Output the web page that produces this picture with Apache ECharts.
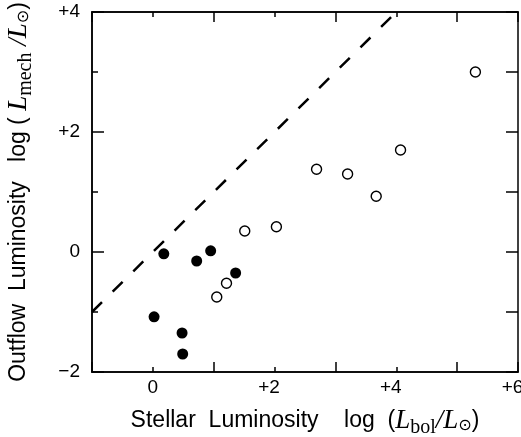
<!DOCTYPE html>
<html><head><meta charset="utf-8">
<script src="https://cdn.jsdelivr.net/npm/echarts@6/dist/echarts.min.js"></script>
<style>html,body{margin:0;padding:0;background:#fff}#c{width:521px;height:437px}</style>
</head><body><div id="c"></div>
<script>
// Data
const filledX = [0.18, 0.72, 0.95, 1.36, 0.02, 0.48, 0.49];
const filledY = [-0.03, -0.15, 0.02, -0.35, -1.08, -1.35, -1.70];
const openX = [1.05, 1.21, 1.51, 2.03, 2.69, 3.20, 3.67, 4.07, 5.30];
const openY = [-0.75, -0.52, 0.35, 0.42, 1.38, 1.30, 0.93, 1.70, 3.00];
const equalityX = [-1, 4];
const equalityY = [-1, 4];
const xTickLabels = {0: '0', 2: '+2', 4: '+4', 6: '+6'};
const yTickLabels = {'-2': '\u22122', 0: '0', 2: '+2', 4: '+4'};

const zip = (a, b) => a.map((v, i) => [v, b[i]]);
const sans = "'Liberation Sans', Arial, Helvetica, sans-serif";
const serif = "'Liberation Serif', 'Times New Roman', serif";
const ax = {color: '#000', width: 1.5};

const titleRich = {
  t: {fontFamily: sans, fontSize: 23, color: '#000'},
  L: {fontFamily: serif, fontStyle: 'italic', fontSize: 27, color: '#000'},
  sub: {fontFamily: serif, fontSize: 20, color: '#000', padding: [14, 0, 0, 0]},
  sun: {fontFamily: 'DejaVu Sans', fontSize: 16, color: '#000', padding: [10, 0, 0, 0]}
};

// x tick labels: the digit sits on the tick, the sign hangs to the left
function xLabel(v) {
  const s = xTickLabels[v];
  if (s === undefined) return '';
  if (s.charAt(0) === '+') return '{n|' + s + '}{g| }';
  return '{n|' + s + '}';
}

function xAx(pos, interval, len, withLabel, withName) {
  return {
    type: 'value', position: pos, min: -1, max: 6, interval: interval,
    axisLine: {show: true, onZero: false, lineStyle: ax},
    axisTick: {show: true, inside: true, length: len, lineStyle: ax},
    splitLine: {show: false},
    axisLabel: {show: withLabel, margin: 6, color: '#000', formatter: xLabel,
      rich: {n: {fontFamily: sans, fontSize: 19, color: '#000'},
             g: {fontFamily: sans, fontSize: 19, width: 11}}},
    name: withName ? '{t|Stellar  Luminosity    log  (}{L|L}{sub|bol}{L|/L}{sun|\u2299}{t|)}' : '',
    nameLocation: 'middle', nameGap: 32,
    nameTextStyle: {rich: titleRich}
  };
}
function yAx(pos, interval, len, withLabel, withName) {
  return {
    type: 'value', position: pos, min: -2, max: 4, interval: interval,
    axisLine: {show: true, onZero: false, lineStyle: ax},
    axisTick: {show: true, inside: true, length: len, lineStyle: ax},
    splitLine: {show: false},
    axisLabel: {show: withLabel, margin: 12, fontFamily: sans, fontSize: 19, color: '#000',
      formatter: v => (yTickLabels[v] !== undefined ? yTickLabels[v] : '')},
    name: withName ? '{t|Outflow  Luminosity   log ( }{L|L}{sub|mech}{L| /L}{sun|\u2299}{t|)}' : '',
    nameLocation: 'middle', nameGap: 56, nameRotate: 90,
    nameTextStyle: {rich: titleRich}
  };
}

const chart = echarts.init(document.getElementById('c'), null, {renderer: 'canvas'});
chart.setOption({
  animation: false,
  backgroundColor: '#fff',
  grid: {left: 92, right: 3, top: 12, bottom: 65, containLabel: false, outerBoundsMode: 'none'},
  xAxis: [
    xAx('bottom', 1, 5, true, true),
    xAx('bottom', 2, 10, false, false),
    xAx('top', 1, 5, false, false),
    xAx('top', 2, 10, false, false)
  ],
  yAxis: [
    yAx('left', 1, 6, true, true),
    yAx('left', 2, 12, false, false),
    yAx('right', 1, 12, false, false)
  ],
  series: [
    {type: 'line', data: zip(equalityX, equalityY), showSymbol: false, symbol: 'none',
      lineStyle: {color: '#000', width: 2.5, type: [14, 15]}, z: 3},
    {type: 'scatter', data: zip(filledX, filledY), symbol: 'circle', symbolSize: 11,
      itemStyle: {color: '#000', opacity: 1}, z: 4},
    {type: 'scatter', data: zip(openX, openY), symbol: 'circle', symbolSize: 10,
      itemStyle: {color: '#fff', borderColor: '#000', borderWidth: 1.4, opacity: 1}, z: 4}
  ]
});
</script>
</body></html>
